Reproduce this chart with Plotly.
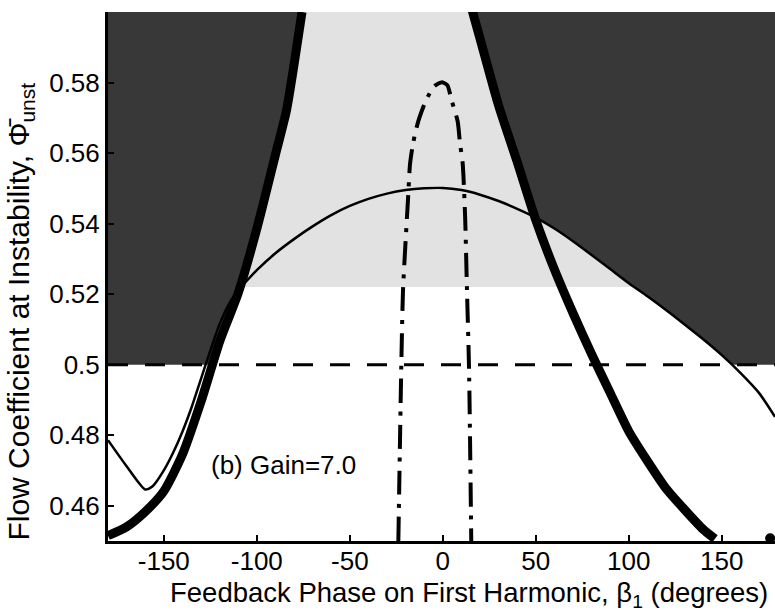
import numpy as np
import plotly.graph_objects as go

# ---------------- data ----------------
# thick stability boundary, left branch
thick_left_x = [-180, -170, -160, -150, -140, -130, -120, -110, -100, -90, -84, -80, -75.7]
thick_left_y = [0.4515, 0.4540, 0.4583, 0.4641, 0.4745, 0.4895, 0.5065, 0.5203, 0.5385, 0.5595, 0.5722, 0.5850, 0.6000]

# thick stability boundary, right branch
thick_right_x = [15.5, 20, 30, 40, 50, 60, 70, 80, 90, 100, 110, 120, 130, 140, 146.3]
thick_right_y = [0.6010, 0.5925, 0.5735, 0.5575, 0.5410, 0.5270, 0.5146, 0.5030, 0.4920, 0.4811, 0.4727, 0.4649, 0.4589, 0.4533, 0.4506]

# thin curve
thin_x = [-180, -170, -160, -156, -150, -145, -140, -135, -130, -125, -120, -115, -110, -105, -100, -90,
          -80, -70, -60, -50, -40, -30, -20, -10, 0, 10, 20, 30, 40, 50, 60, 70, 80, 90, 100,
          110, 120, 130, 140, 150, 160, 170, 178.6]
thin_y = [0.4786, 0.4712, 0.4646, 0.4655, 0.4700, 0.4750, 0.4810, 0.4880, 0.4960, 0.5040, 0.5115, 0.5172,
          0.5210, 0.5240, 0.5268, 0.5316, 0.5356, 0.5392, 0.5424, 0.5450, 0.5470, 0.5485, 0.5495, 0.5500,
          0.5501, 0.5495, 0.5482, 0.5464, 0.5442, 0.5417, 0.5386, 0.5350, 0.5311, 0.5271, 0.5231, 0.5194,
          0.5155, 0.5114, 0.5072, 0.5027, 0.4977, 0.4920, 0.4852]

# dash-dot inverted-U curve
dd_x = [-23.9, -22.3, -21.4, -18.7, -17.6, -15.9, -13.2, -9.0, -4.5, -0.4, 2.5, 4.7, 8.0, 9.2, 10.7, 12.0, 13.0, 14.1, 15.3]
dd_y = [0.450, 0.500, 0.521, 0.547, 0.557, 0.563, 0.569, 0.575, 0.5790, 0.5801, 0.5792, 0.575, 0.569, 0.563, 0.557, 0.542, 0.521, 0.499, 0.450]

# reference level and light-region floor
ref_level = 0.5
light_floor = 0.522
end_dot_x = [176]
end_dot_y = [0.4508]

x_tick_vals = [-150, -100, -50, 0, 50, 100, 150]
x_tick_text = ["-150", "-100", "-50", "0", "50", "100", "150"]
y_tick_vals = [0.46, 0.48, 0.50, 0.52, 0.54, 0.56, 0.58]
y_tick_text = ["0.46", "0.48", "0.5", "0.52", "0.54", "0.56", "0.58"]

X_MIN, X_MAX = -180, 178.6
Y_MIN, Y_MAX = 0.45, 0.60

FONT = "Liberation Sans, Arial, Helvetica, sans-serif"
DARK = "#383838"
LIGHT = "#e2e2e2"

# ---------------- region polygons built from the curves ----------------
tlx = np.array(thick_left_x); tly = np.array(thick_left_y)
x_cross_left = float(np.interp(ref_level, tly, tlx))
mask = tly > ref_level
left_px = [X_MIN, x_cross_left] + list(tlx[mask]) + [X_MIN]
left_py = [ref_level, ref_level] + list(tly[mask]) + [Y_MAX]

trx = np.array(thick_right_x); trY = np.array(thick_right_y)
tnx = np.array(thin_x); tny = np.array(thin_y)
xs = np.linspace(trx[0], trx[-1], 4000)
d = np.interp(xs, trx, trY) - np.interp(xs, tnx, tny)
i = int(np.argmax(d <= 0))
x_int = float(xs[i]); y_int = float(np.interp(x_int, trx, trY))
pos = tnx > 0
x_half = float(np.interp(ref_level, tny[pos][::-1], tnx[pos][::-1]))
m1 = trx < x_int
m2 = (tnx > x_int) & (tnx < x_half)
right_px = list(trx[m1]) + [x_int] + list(tnx[m2]) + [x_half, 185, 185]
right_py = list(trY[m1]) + [y_int] + list(tny[m2]) + [ref_level, ref_level, Y_MAX + 0.001]

fig = go.Figure()

fig.add_shape(type="rect", x0=X_MIN - 5, x1=X_MAX + 5, y0=light_floor, y1=Y_MAX + 0.005,
              fillcolor=LIGHT, line=dict(width=0), layer="below")

fig.add_trace(go.Scatter(x=left_px, y=left_py, mode="lines", fill="toself", fillcolor=DARK,
                         line=dict(width=0, color=DARK), hoverinfo="skip", showlegend=False))
fig.add_trace(go.Scatter(x=right_px, y=right_py, mode="lines", fill="toself", fillcolor=DARK,
                         line=dict(width=0, color=DARK), hoverinfo="skip", showlegend=False))

# dashed reference line
fig.add_trace(go.Scatter(x=[X_MIN, X_MAX + 5], y=[ref_level, ref_level], mode="lines",
                         line=dict(color="black", width=3, dash="20px,17px"),
                         hoverinfo="skip", showlegend=False))

# thin curve
fig.add_trace(go.Scatter(x=thin_x, y=thin_y, mode="lines",
                         line=dict(color="black", width=2.5, shape="spline", smoothing=0.6),
                         hoverinfo="skip", showlegend=False))

# dash-dot curve
fig.add_trace(go.Scatter(x=dd_x, y=dd_y, mode="lines",
                         line=dict(color="black", width=4, shape="spline", smoothing=0.6,
                                   dash="24px,9px,4px,9px"),
                         hoverinfo="skip", showlegend=False))

# thick boundaries
for xx, yy in ((thick_left_x, thick_left_y), (thick_right_x, thick_right_y)):
    fig.add_trace(go.Scatter(x=xx, y=yy, mode="lines",
                             line=dict(color="black", width=9, shape="spline", smoothing=0.6),
                             hoverinfo="skip", showlegend=False))

fig.add_trace(go.Scatter(x=end_dot_x, y=end_dot_y, mode="markers",
                         marker=dict(color="black", size=10), cliponaxis=False,
                         hoverinfo="skip", showlegend=False))

fig.add_annotation(x=-85.9, y=0.4715, xref="x", yref="y", text="(b) Gain=7.0",
                   showarrow=False, font=dict(family=FONT, size=26, color="black"))

fig.add_annotation(x=0.541, y=-0.101, xref="paper", yref="paper",
                   text="Feedback Phase on First Harmonic, β<sub>1</sub> (degrees)",
                   showarrow=False, xanchor="center", yanchor="middle",
                   font=dict(family=FONT, size=27.5, color="black"))
fig.add_annotation(x=-0.131, y=0.433, xref="paper", yref="paper",
                   text="Flow Coefficient at Instability, \u03a6\u0304<sub>unst</sub>",
                   showarrow=False, textangle=-90, xanchor="center", yanchor="middle",
                   font=dict(family=FONT, size=30, color="black"))

fig.update_layout(
    width=775, height=611,
    margin=dict(l=108, r=0, t=12, b=70),
    paper_bgcolor="white", plot_bgcolor="white",
    font=dict(family=FONT, size=26, color="black"),
    xaxis=dict(range=[X_MIN, X_MAX], tickmode="array", tickvals=x_tick_vals, ticktext=x_tick_text,
               ticks="inside", ticklen=6, tickwidth=2, tickcolor="black", ticklabelstandoff=-5,
               showline=True, linecolor="black", linewidth=3, showgrid=False, zeroline=False,
               tickfont=dict(family=FONT, size=26)),
    yaxis=dict(range=[Y_MIN, Y_MAX], tickmode="array", tickvals=y_tick_vals, ticktext=y_tick_text,
               ticks="inside", ticklen=6, tickwidth=2, tickcolor="black",
               showline=True, linecolor="black", linewidth=3, showgrid=False, zeroline=False,
               tickfont=dict(family=FONT, size=26)),
)

fig.write_html("out.html")
